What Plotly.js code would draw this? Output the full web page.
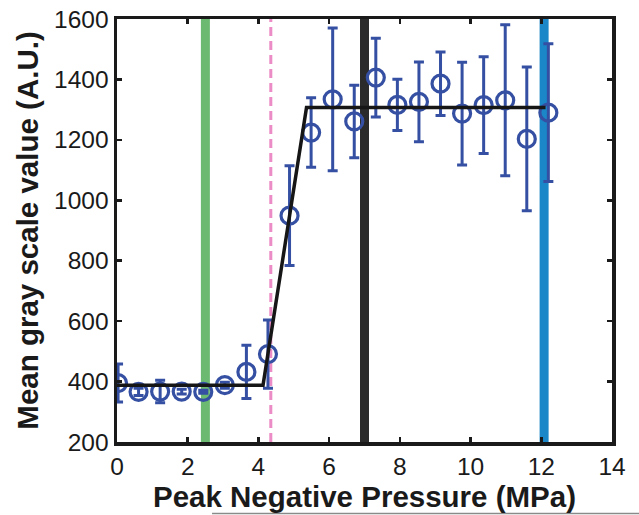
<!DOCTYPE html>
<html>
<head>
<meta charset="utf-8">
<script src="https://cdn.plot.ly/plotly-3.0.1.min.js"></script>
<style>html,body{margin:0;padding:0;background:#fff;}#chart{width:639px;height:515px;}</style>
</head>
<body>
<div id="chart"></div>
<script>
// Data
const pressure = [0.03, 0.61, 1.22, 1.83, 2.44, 3.05, 3.66, 4.27, 4.88, 5.49, 6.10, 6.71, 7.32, 7.93, 8.54, 9.15, 9.76, 10.37, 10.98, 11.59, 12.20];
const grayMean = [395, 366, 367, 367, 366, 388, 432, 491, 949, 1224, 1334, 1261, 1406, 1316, 1326, 1386, 1287, 1315, 1331, 1203, 1290];
const grayErr  = [63, 12, 37, 8, 5, 10, 88, 113, 165, 115, 236, 120, 130, 85, 132, 105, 170, 160, 250, 238, 228];

const fitX = [0, 4.13, 5.36, 12.12];
const fitY = [388, 388, 1307, 1307];

const markerX = [2.5, 4.35, 7.0, 12.08];
const markerColors = ['#6cba72', '#ec8cc6', '#2b2b2b', '#1b86c8'];
const markerDash = ['solid', '9px,5px', 'solid', 'solid'];
const markerWidth = [9, 3, 9, 9];

const xTicks = [0, 2, 4, 6, 8, 10, 12, 14];
const yTicks = [200, 400, 600, 800, 1000, 1200, 1400, 1600];
const yRange = [200, 1600];
const xRange = [0, 14];

const traces = [];
markerX.forEach((v, i) => {
  traces.push({
    x: [v, v], y: yRange, mode: 'lines', type: 'scatter',
    line: {color: markerColors[i], width: markerWidth[i], dash: markerDash[i]},
    hoverinfo: 'skip', showlegend: false
  });
});
traces.push({
  x: pressure, y: grayMean, mode: 'markers', type: 'scatter',
  marker: {symbol: 'circle-open', size: 17, color: '#3550a2', line: {width: 3.2, color: '#3550a2'}},
  error_y: {type: 'data', array: grayErr, visible: true, color: '#3550a2', thickness: 3, width: 5},
  showlegend: false
});
traces.push({
  x: fitX, y: fitY, mode: 'lines', type: 'scatter',
  line: {color: '#161616', width: 3.5}, showlegend: false
});

const font = 'Liberation Sans, Arial, Helvetica, sans-serif';
const layout = {
  width: 639, height: 515,
  margin: {l: 117, r: 27, t: 19, b: 73},
  paper_bgcolor: '#fff', plot_bgcolor: '#fff',
  font: {family: font, color: '#1a1a1a'},
  xaxis: {
    range: xRange, tickvals: xTicks, ticktext: xTicks.map(String),
    showgrid: false, zeroline: false,
    showline: true, mirror: 'ticks', linecolor: '#1a1a1a', linewidth: 3.5,
    ticks: 'inside', ticklen: 5, tickwidth: 2.5, tickcolor: '#1a1a1a',
    tickfont: {size: 24.5, family: font, color: '#1a1a1a'},
    title: {text: '<b>Peak Negative Pressure (MPa)</b>', font: {size: 29.5, family: font, color: '#1a1a1a'}, standoff: 3},
    automargin: false
  },
  yaxis: {
    range: yRange, tickvals: yTicks, ticktext: yTicks.map(String),
    showgrid: false, zeroline: false,
    showline: true, mirror: 'ticks', linecolor: '#1a1a1a', linewidth: 3.5,
    ticks: 'inside', ticklen: 5, tickwidth: 2.5, tickcolor: '#1a1a1a',
    tickfont: {size: 24.5, family: font, color: '#1a1a1a'},
    title: {text: '<b>Mean gray scale value (A.U.)</b>', font: {size: 29.5, family: font, color: '#1a1a1a'}, standoff: 8},
    automargin: false
  },
  shapes: [{
    type: 'line', xref: 'paper', yref: 'paper',
    x0: 0.192, x1: 1.06, y0: -0.169, y1: -0.169,
    line: {color: '#8a8a8a', width: 1.5}
  }],
  showlegend: false
};

Plotly.newPlot('chart', traces, layout, {displayModeBar: false, staticPlot: true});
</script>
</body>
</html>
